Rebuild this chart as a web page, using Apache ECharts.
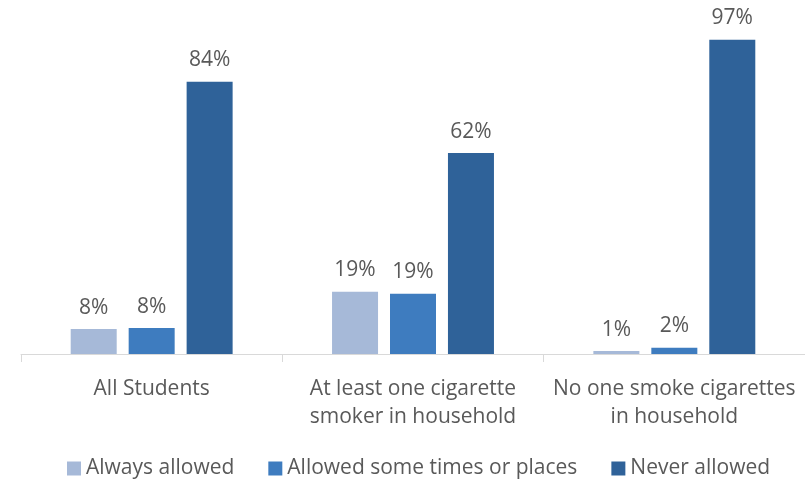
<!DOCTYPE html>
<html><head><meta charset="utf-8">
<script src="https://cdn.jsdelivr.net/npm/echarts@6/dist/echarts.min.js"></script>
<style>html,body{margin:0;padding:0;background:#fff}#c{width:805px;height:481px}</style>
</head><body><div id="c"></div>
<script>
const categories = ["All Students", "At least one cigarette\nsmoker in household", "No one smoke cigarettes\nin household"];
const seriesNames = ["Always allowed", "Allowed some times or places", "Never allowed"];
const alwaysAllowed = [7.7, 19.2, 0.9];
const someTimes = [8.0, 18.6, 1.9];
const neverAllowed = [84, 62, 97];
const labelsAlways = ["8%", "19%", "1%"];
const labelsSome = ["8%", "19%", "2%"];
const labelsNever = ["84%", "62%", "97%"];
const colors = ["#A6B9D8", "#3E7CBF", "#2F6299"];

const font = "'Open Sans', sans-serif";
function mk(name, data, labels, color) {
  return {
    name, type: 'bar', data, barWidth: 46, barGap: '26%',
    itemStyle: { color },
    label: { show: true, position: 'top', distance: 11, color: '#595959', fontSize: 21, fontFamily: font,
      formatter: p => labels[p.dataIndex] }
  };
}
const chart = echarts.init(document.getElementById('c'), null, { renderer: 'canvas' });
chart.setOption({
  animation: false,
  color: colors,
  grid: { left: 21, width: 789, top: 30, bottom: 127, containLabel: false },
  legend: { bottom: -3, left: 62, itemWidth: 14, itemHeight: 14, itemGap: 34, itemTextGap: 6, icon: 'rect',
    textStyle: { color: '#595959', fontSize: 21, fontFamily: font }, data: seriesNames },
  xAxis: { type: 'category', data: categories,
    axisLine: { lineStyle: { color: '#D9D9D9' } },
    axisTick: { show: true, length: 8, lineStyle: { color: '#D9D9D9' } },
    axisLabel: { color: '#595959', fontSize: 21, fontFamily: font, lineHeight: 28, margin: 21, interval: 0 } },
  yAxis: { type: 'value', min: 0, max: 100, show: false, splitLine: { show: false } },
  series: [mk(seriesNames[0], alwaysAllowed, labelsAlways, colors[0]),
           mk(seriesNames[1], someTimes, labelsSome, colors[1]),
           mk(seriesNames[2], neverAllowed, labelsNever, colors[2])]
});
</script></body></html>
